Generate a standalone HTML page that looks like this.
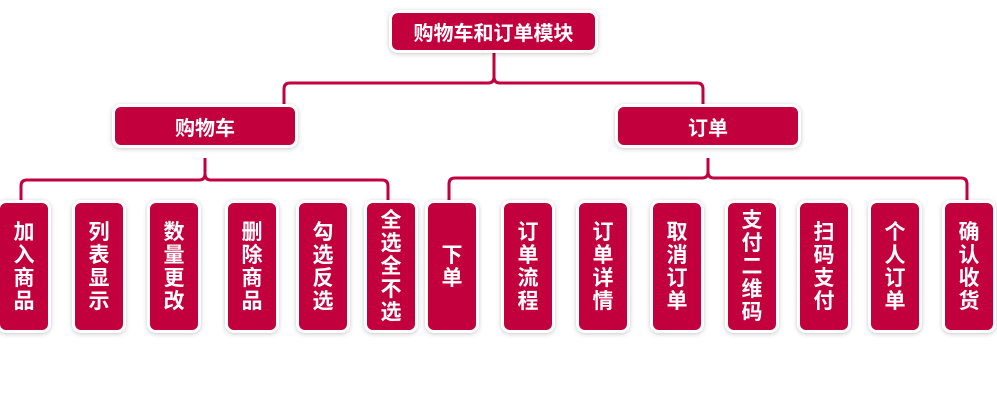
<!DOCTYPE html>
<html><head><meta charset="utf-8"><style>
body{margin:0;width:997px;height:415px;background:#fff;position:relative;overflow:hidden;font-family:"Liberation Sans","Noto Sans CJK SC",sans-serif;}
.b{position:absolute;background:#c2003e;color:#fff;font-weight:bold;border-radius:6px;box-shadow:0 0 0 3px #fff,0 1px 5px 3px rgba(0,0,0,0.22);display:flex;align-items:center;justify-content:center;text-align:center;}
.h{font-size:20px;}
.v{font-size:21px;line-height:23px;width:48px;top:203px;height:127px;}
svg{position:absolute;left:0;top:0;}
</style></head><body>
<svg width="997" height="415"><g fill="none" stroke="#c2003e" stroke-width="3">
<path d="M494 52 V77 Q494 83 488 83 H290 Q284 83 284 89 V105"/>
<path d="M494 77 Q494 83 500 83 H697 Q703 83 703 89 V105"/>
<path d="M205 158 V174 Q205 180 199 180 H27 Q21 180 21 186 V202"/>
<path d="M205 174 Q205 180 211 180 H382 Q388 180 388 186 V202"/>
<path d="M708 158 V172 Q708 178 702 178 H455 Q449 178 449 184 V202"/>
<path d="M708 172 Q708 178 714 178 H961 Q967 178 967 184 V202"/>
</g></svg>
<div class="b h" style="left:392px;top:13px;width:203px;height:37px;">购物车和订单模块</div>
<div class="b h" style="left:115px;top:107px;width:180px;height:38px;">购物车</div>
<div class="b h" style="left:618px;top:107px;width:180px;height:38px;">订单</div>
<div class="b v" style="left:0px;">加<br>入<br>商<br>品</div>
<div class="b v" style="left:75px;">列<br>表<br>显<br>示</div>
<div class="b v" style="left:150px;">数<br>量<br>更<br>改</div>
<div class="b v" style="left:228px;">删<br>除<br>商<br>品</div>
<div class="b v" style="left:299px;">勾<br>选<br>反<br>选</div>
<div class="b v" style="left:367px;">全<br>选<br>全<br>不<br>选</div>
<div class="b v" style="left:428px;">下<br>单</div>
<div class="b v" style="left:504px;">订<br>单<br>流<br>程</div>
<div class="b v" style="left:579px;">订<br>单<br>详<br>情</div>
<div class="b v" style="left:653px;">取<br>消<br>订<br>单</div>
<div class="b v" style="left:728px;">支<br>付<br>二<br>维<br>码</div>
<div class="b v" style="left:800px;">扫<br>码<br>支<br>付</div>
<div class="b v" style="left:871px;">个<br>人<br>订<br>单</div>
<div class="b v" style="left:945px;">确<br>认<br>收<br>货</div>
</body></html>
